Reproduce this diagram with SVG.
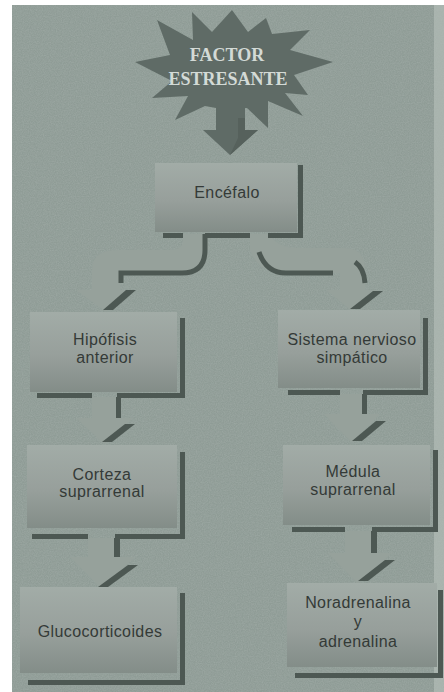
<svg xmlns="http://www.w3.org/2000/svg" width="444" height="692" viewBox="0 0 444 692">
  <defs>
    <linearGradient id="boxGrad" x1="0" y1="0" x2="0" y2="1">
      <stop offset="0" stop-color="#a2aca7"/>
      <stop offset="0.55" stop-color="#979f9b"/>
      <stop offset="1" stop-color="#838d88"/>
    </linearGradient>
    <filter id="grain" x="0" y="0" width="100%" height="100%">
      <feTurbulence type="fractalNoise" baseFrequency="0.85" numOctaves="2" seed="3" result="n"/>
      <feColorMatrix in="n" type="matrix" values="0 0 0 0 0.45  0 0 0 0 0.5  0 0 0 0 0.48  0 0 0 0.9 -0.25"/>
    </filter>
    <style>
      .panel { fill: #8f9c96; }
      .box { fill: url(#boxGrad); }
      .shadow { fill: #4d5853; }
      .sline { fill: none; stroke: #4d5853; stroke-width: 5; }
      .body { fill: #96a19b; }
      .label { font-family: "Liberation Sans", Arial, sans-serif; font-size: 16px; fill: #343a37; text-anchor: middle; letter-spacing: 0.4px; }
      .burst { fill: #5f6b66; }
      .burstText { font-family: "Liberation Serif", "Times New Roman", serif; font-weight: bold; font-size: 18px; fill: #d3dad6; text-anchor: middle; }
    </style>
  </defs>

  <rect x="0" y="0" width="444" height="692" fill="#ffffff"/>
  <rect class="panel" x="12" y="5" width="422" height="687"/>
  <rect x="434" y="5" width="10" height="687" fill="#a8b3ad"/>
  <rect x="12" y="5" width="432" height="687" filter="url(#grain)" opacity="0.6"/>

  <g id="connectors">
    <!-- Encefalo -> Hipofisis -->
    <g id="conn-enc-hip">
      <path class="body" d="M183,234 H208 V250 Q208,273 183,273 H120 V290 H134 L106,312 L76,290 H92 V270 Q92,250 118,250 H170 Q183,250 183,240 Z"/>
      <path class="sline" d="M205,234 V250 Q205,273 182,273 H121 V283"/>
      <polygon class="shadow" points="126,290 136,290 113,310 103,310"/>
    </g>
    <!-- Encefalo -> Sistema nervioso -->
    <g id="conn-enc-sis">
      <path class="body" d="M250,234 H270 Q276,248 300,248 H345 Q365,248 365,270 V290 H380 L352,311 L326,290 H340 V273 H285 Q258,273 250,250 Z"/>
      <path class="sline" d="M259,252 Q266,273 286,273 H333"/>
      <path class="sline" stroke-width="4" d="M355,262 Q364,268 365,283"/>
      <polygon class="shadow" points="373,291 383,291 360,309 350,309"/>
    </g>
    <!-- Hipofisis -> Corteza -->
    <g id="conn-hip-cor">
      <path class="body" d="M92,397 H117 V418 H133 L104,444 L76,418 H92 Z"/>
      <rect class="shadow" x="116" y="397" width="5" height="21"/>
      <polygon class="shadow" points="125,424 135,424 112,442 102,442"/>
    </g>
    <!-- Sistema -> Medula -->
    <g id="conn-sis-med">
      <path class="body" d="M340,394 H363 V414 H380 L352,443 L324,414 H340 Z"/>
      <rect class="shadow" x="362" y="394" width="5" height="20"/>
      <polygon class="shadow" points="376,421 386,421 362,441 352,441"/>
    </g>
    <!-- Corteza -> Glucocorticoides -->
    <g id="conn-cor-glu">
      <path class="body" d="M88,538 H115 V557 H135 L102,589 L70,557 H88 Z"/>
      <rect class="shadow" x="114" y="538" width="6" height="19"/>
      <polygon class="shadow" points="128,565 138,565 108,587 98,587"/>
    </g>
    <!-- Medula -> Noradrenalina -->
    <g id="conn-med-nor">
      <path class="body" d="M345,531 H372 V553 H392 L358,584 L328,553 H345 Z"/>
      <rect class="shadow" x="371" y="531" width="6" height="22"/>
      <polygon class="shadow" points="385,560 395,560 368,581 358,581"/>
    </g>
  </g>

  <g id="factor-estresante">
    <polygon class="burst" points="232,10 248,32 266,18 272,34 310,30 290,50 333,62 294,75 308,95 285,93 303,116 268,101 268,128 247,108 245,108 245,130 258,130 230,155 203,130 216,130 216,108 205,106 175,120 188,96 152,98 172,81 135,62 170,55 157,20 193,40 192,12 212,32"/>
    <polygon points="230,155 258,130 245,130 245,118 238,118 238,138" fill="#56615c"/>
    <text class="burstText" x="227" y="61">FACTOR</text>
    <text class="burstText" x="228" y="85">ESTRESANTE</text>
  </g>

  <g id="encefalo">
    <rect class="box" x="155" y="163" width="142" height="69"/>
    <rect class="shadow" x="298" y="165" width="5" height="73"/>
    <rect class="shadow" x="163" y="233" width="20" height="5"/>
    <rect class="shadow" x="205" y="233" width="45" height="5"/>
    <rect class="shadow" x="268" y="233" width="35" height="5"/>
    <text class="label" x="227" y="198">Encéfalo</text>
  </g>

  <g id="hipofisis">
    <rect class="box" x="30" y="312" width="147" height="80"/>
    <rect class="shadow" x="180" y="318" width="5" height="79"/>
    <rect class="shadow" x="37" y="393" width="55" height="5"/>
    <rect class="shadow" x="117" y="393" width="68" height="5"/>
    <text class="label" x="105" y="345">Hipófisis</text>
    <text class="label" x="105" y="363">anterior</text>
  </g>

  <g id="sistema-nervioso">
    <rect class="box" x="278" y="310" width="142" height="78"/>
    <rect class="shadow" x="423" y="318" width="5" height="77"/>
    <rect class="shadow" x="288" y="390" width="52" height="5"/>
    <rect class="shadow" x="363" y="390" width="65" height="5"/>
    <text class="label" x="352" y="345">Sistema nervioso</text>
    <text class="label" x="352" y="363">simpático</text>
  </g>

  <g id="corteza">
    <rect class="box" x="27" y="445" width="150" height="83"/>
    <rect class="shadow" x="180" y="452" width="5" height="86"/>
    <rect class="shadow" x="32" y="534" width="56" height="5"/>
    <rect class="shadow" x="115" y="534" width="70" height="5"/>
    <text class="label" x="102" y="480">Corteza</text>
    <text class="label" x="102" y="497">suprarrenal</text>
  </g>

  <g id="medula">
    <rect class="box" x="283" y="445" width="147" height="80"/>
    <rect class="shadow" x="433" y="450" width="5" height="81"/>
    <rect class="shadow" x="292" y="527" width="53" height="5"/>
    <rect class="shadow" x="372" y="527" width="66" height="5"/>
    <text class="label" x="353" y="477">Médula</text>
    <text class="label" x="353" y="495">suprarrenal</text>
  </g>

  <g id="glucocorticoides">
    <rect class="box" x="20" y="587" width="157" height="86"/>
    <rect class="shadow" x="180" y="593" width="5" height="91"/>
    <rect class="shadow" x="28" y="680" width="157" height="5"/>
    <text class="label" x="100" y="637">Glucocorticoides</text>
  </g>

  <g id="noradrenalina">
    <rect class="box" x="287" y="583" width="150" height="84"/>
    <rect class="shadow" x="438" y="590" width="5" height="87"/>
    <rect class="shadow" x="295" y="673" width="148" height="5"/>
    <text class="label" x="358" y="608">Noradrenalina</text>
    <text class="label" x="358" y="627">y</text>
    <text class="label" x="358" y="647">adrenalina</text>
  </g>
</svg>
